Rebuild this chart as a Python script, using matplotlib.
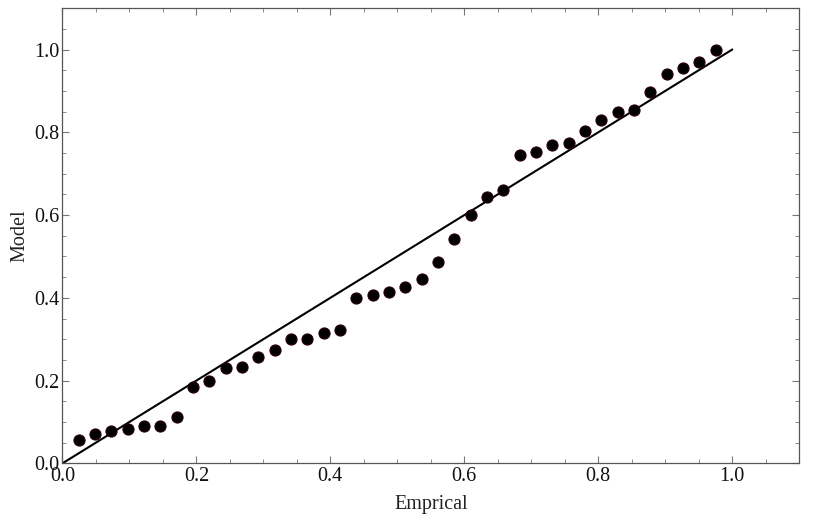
import numpy as np
import matplotlib
matplotlib.use("Agg")
import matplotlib.pyplot as plt
from matplotlib.ticker import MultipleLocator

n_points = 40
empirical = [i / (n_points + 1) for i in range(1, n_points + 1)]
model = [0.056, 0.070, 0.077, 0.083, 0.089, 0.091, 0.113, 0.185, 0.199, 0.231,
         0.234, 0.256, 0.273, 0.300, 0.301, 0.314, 0.323, 0.399, 0.406, 0.414,
         0.425, 0.446, 0.486, 0.542, 0.600, 0.643, 0.660, 0.746, 0.752, 0.770,
         0.774, 0.804, 0.831, 0.850, 0.853, 0.898, 0.942, 0.956, 0.971, 0.998]
ref_line = [0.0, 1.0]

plt.rcParams['font.family'] = ['Liberation Serif', 'DejaVu Serif']

fig = plt.figure(figsize=(8.18, 5.18), dpi=100)
ax = fig.add_axes([0.0764, 0.1056, 0.9004, 0.8784])

ax.plot(ref_line, ref_line, color='black', lw=1.5, zorder=2)
ax.plot(empirical, model, 'o', ms=8, mfc='black', mec='#2a0008', mew=0.8, zorder=3)

ax.set_xlim(0, 1.1)
ax.set_ylim(0, 1.1)
ax.xaxis.set_major_locator(MultipleLocator(0.2))
ax.yaxis.set_major_locator(MultipleLocator(0.2))
ax.xaxis.set_minor_locator(MultipleLocator(0.05))
ax.yaxis.set_minor_locator(MultipleLocator(0.05))
ax.xaxis.set_major_formatter(lambda v, p: f"{v:.1f}")
ax.yaxis.set_major_formatter(lambda v, p: f"{v:.1f}")

for s in ax.spines.values():
    s.set_color('#555555')
    s.set_linewidth(0.9)
ax.tick_params(which='both', direction='in', top=True, right=True,
               color='#777777', labelsize=14.5, labelcolor='#111111')
ax.tick_params(which='major', length=5, width=0.8, pad=2.5)
ax.tick_params(which='minor', length=3, width=0.6)

ax.set_xlabel('Emprical', fontsize=14.5, color='#222222', labelpad=7)
ax.set_ylabel('Model', fontsize=14.5, color='#222222', labelpad=3)

fig.savefig('out.png', dpi=100)
